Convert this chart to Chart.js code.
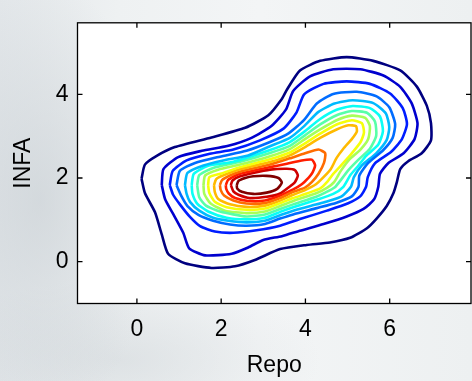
<!DOCTYPE html>
<html>
<head>
<meta charset="utf-8">
<script src="https://cdn.jsdelivr.net/npm/chart.js@4.4.1/dist/chart.umd.min.js"></script>
<style>
  html, body { margin: 0; padding: 0; }
  body {
    width: 472px;
    height: 381px;
    overflow: hidden;
    background:
      radial-gradient(ellipse 120px 220px at 40px 200px, rgba(196, 203, 208, 0.55), rgba(196, 203, 208, 0) 100%),
      radial-gradient(ellipse 200px 80px at 120px 360px, rgba(205, 211, 215, 0.5), rgba(205, 211, 215, 0) 100%),
      linear-gradient(90deg, #e3e7ea 0%, #eef1f2 25%, #f3f5f6 55%, #edf0f1 100%);
  }
  canvas { display: block; }
</style>
</head>
<body>
<canvas id="contourChart" width="472" height="381"></canvas>
<script>
//Ejes.
var xTicks = [0, 2, 4, 6];
var yTicks = [0, 2, 4];
var xRange = [-1.41, 7.93];
var yRange = [-1, 5.71];

//Curvas de nivel, de la exterior a la interior (x = Repo, y = INFA).
var level1 = [[0.11,1.98],[0.19,2.32],[0.47,2.53],[0.90,2.74],[1.77,2.97],[2.57,3.20],[3.12,3.50],[3.44,3.89],[3.56,4.11],[3.87,4.57],[4.35,4.80],[4.98,4.89],[5.61,4.80],[6.25,4.57],[6.64,4.19],[6.88,3.73],[6.98,3.31],[6.98,2.90],[6.76,2.59],[6.44,2.40],[6.25,2.21],[6.17,1.90],[6.09,1.64],[5.93,1.33],[5.69,1.03],[5.46,0.80],[5.06,0.57],[4.58,0.46],[4.03,0.40],[3.40,0.30],[2.80,0.04],[2.33,-0.11],[1.77,-0.15],[1.14,-0.04],[0.74,0.19],[0.59,0.65],[0.43,1.18],[0.19,1.64]];
var level2 = [[0.59,1.83],[0.63,2.21],[0.98,2.50],[1.54,2.65],[2.17,2.77],[2.72,2.96],[3.20,3.25],[3.54,3.64],[3.71,4.08],[4.11,4.43],[4.66,4.60],[5.30,4.60],[5.85,4.45],[6.25,4.18],[6.52,3.79],[6.66,3.31],[6.59,2.93],[6.33,2.59],[5.97,2.36],[5.77,2.10],[5.73,1.79],[5.63,1.49],[5.38,1.26],[4.98,1.08],[4.43,0.90],[3.87,0.74],[3.44,0.61],[3.00,0.52],[2.64,0.34],[2.25,0.19],[1.62,0.15],[1.24,0.32],[1.10,0.69],[0.86,1.14],[0.67,1.49]];
var level3 = [[0.78,1.83],[0.85,2.17],[1.18,2.42],[1.73,2.58],[2.29,2.68],[2.92,2.90],[3.48,3.18],[3.79,3.57],[3.97,4.00],[4.43,4.25],[4.98,4.31],[5.53,4.25],[6.01,4.02],[6.31,3.67],[6.41,3.29],[6.29,2.93],[6.03,2.62],[5.65,2.35],[5.48,2.02],[5.44,1.79],[5.30,1.56],[5.00,1.39],[4.51,1.22],[3.91,1.03],[3.40,0.86],[2.84,0.75],[2.29,0.69],[1.85,0.72],[1.50,0.85],[1.26,1.07],[1.02,1.37],[0.86,1.60]];
var level4 = [[0.94,1.83],[1.02,2.17],[1.38,2.36],[1.97,2.51],[2.60,2.65],[3.16,2.86],[3.59,3.06],[3.97,3.39],[4.27,3.78],[4.66,4.01],[5.22,4.06],[5.69,3.95],[5.99,3.69],[6.13,3.29],[6.07,2.96],[5.85,2.67],[5.49,2.36],[5.28,2.06],[5.26,1.79],[5.10,1.56],[4.74,1.41],[4.27,1.28],[3.71,1.13],[3.40,1.03],[3.04,0.90],[2.60,0.86],[2.21,0.89],[1.81,0.98],[1.46,1.12],[1.20,1.33],[1.06,1.56]];
var level5 = [[1.14,1.83],[1.20,2.12],[1.58,2.30],[2.05,2.42],[2.64,2.54],[3.16,2.76],[3.63,2.96],[3.97,3.24],[4.31,3.58],[4.69,3.78],[5.12,3.86],[5.61,3.79],[5.91,3.54],[5.99,3.22],[5.93,2.91],[5.68,2.59],[5.34,2.30],[5.15,2.02],[5.08,1.79],[4.86,1.56],[4.49,1.43],[4.27,1.37],[3.71,1.22],[3.40,1.11],[3.04,0.98],[2.60,0.94],[2.17,0.98],[1.81,1.05],[1.48,1.22],[1.26,1.43],[1.18,1.62]];
var level6 = [[1.30,1.83],[1.35,2.10],[1.69,2.29],[2.29,2.39],[3.16,2.67],[3.63,2.86],[3.99,3.12],[4.35,3.41],[4.74,3.63],[5.12,3.72],[5.53,3.67],[5.77,3.47],[5.84,3.12],[5.73,2.80],[5.44,2.53],[5.26,2.30],[5.06,2.06],[4.90,1.79],[4.66,1.62],[4.27,1.48],[3.71,1.30],[3.40,1.19],[3.04,1.05],[2.60,1.01],[2.13,1.05],[1.69,1.20],[1.43,1.39],[1.32,1.62]];
var level7 = [[1.43,1.83],[1.48,2.07],[1.81,2.24],[2.45,2.39],[3.16,2.60],[3.63,2.77],[3.99,3.02],[4.35,3.28],[4.74,3.50],[5.10,3.60],[5.46,3.56],[5.65,3.35],[5.68,3.01],[5.53,2.70],[5.26,2.44],[5.02,2.19],[4.86,1.98],[4.70,1.78],[4.47,1.65],[4.27,1.56],[3.71,1.37],[3.40,1.26],[3.04,1.13],[2.60,1.08],[1.97,1.20],[1.64,1.34],[1.48,1.54]];
var level8 = [[1.58,1.83],[1.62,2.06],[1.93,2.20],[2.45,2.32],[3.16,2.52],[3.63,2.69],[3.99,2.93],[4.35,3.16],[4.74,3.38],[5.10,3.49],[5.42,3.44],[5.53,3.24],[5.49,2.93],[5.30,2.67],[5.04,2.44],[4.84,2.17],[4.68,1.90],[4.52,1.77],[4.27,1.64],[3.71,1.45],[3.40,1.33],[3.04,1.20],[2.60,1.16],[2.09,1.22],[1.75,1.39],[1.60,1.62]];
var level9 = [[1.69,1.83],[1.72,2.02],[2.01,2.11],[2.45,2.26],[3.16,2.45],[3.63,2.61],[3.99,2.83],[4.35,3.06],[4.74,3.28],[5.10,3.38],[5.34,3.31],[5.39,3.09],[5.31,2.86],[5.10,2.59],[4.90,2.36],[4.66,2.10],[4.51,1.90],[4.35,1.75],[4.03,1.63],[3.71,1.52],[3.40,1.40],[3.04,1.27],[2.60,1.24],[2.13,1.30],[1.85,1.43],[1.72,1.64]];
var level10 = [[1.83,1.83],[1.88,1.97],[1.97,2.03],[2.45,2.21],[3.16,2.38],[3.63,2.54],[3.99,2.74],[4.35,2.96],[4.74,3.16],[5.02,3.26],[5.20,3.24],[5.22,3.11],[5.10,2.93],[4.90,2.70],[4.74,2.48],[4.60,2.21],[4.43,2.02],[4.25,1.85],[3.99,1.71],[3.71,1.60],[3.40,1.46],[3.04,1.34],[2.60,1.31],[2.21,1.37],[1.93,1.50],[1.85,1.66]];
var level11 = [[1.97,1.83],[2.02,1.95],[2.21,2.06],[2.45,2.15],[3.16,2.32],[3.63,2.47],[3.99,2.59],[4.31,2.68],[4.47,2.59],[4.44,2.36],[4.31,2.10],[4.15,1.90],[3.99,1.77],[3.71,1.67],[3.40,1.52],[3.04,1.40],[2.60,1.39],[2.29,1.46],[2.07,1.58],[1.99,1.71]];
var level12 = [[2.11,1.83],[2.16,1.95],[2.29,2.03],[2.45,2.10],[3.16,2.26],[3.56,2.34],[3.91,2.42],[4.15,2.44],[4.23,2.30],[4.15,2.10],[3.97,1.90],[3.82,1.79],[3.71,1.73],[3.40,1.58],[3.04,1.46],[2.64,1.45],[2.33,1.52],[2.18,1.63],[2.12,1.74]];
var level13 = [[2.23,1.83],[2.27,1.94],[2.45,2.04],[2.76,2.12],[3.16,2.20],[3.56,2.22],[3.75,2.19],[3.82,2.06],[3.75,1.90],[3.62,1.79],[3.40,1.63],[3.08,1.55],[2.68,1.52],[2.41,1.60],[2.29,1.68]];
var level14 = [[2.37,1.83],[2.41,1.93],[2.57,2.00],[2.76,2.04],[3.08,2.05],[3.36,2.00],[3.44,1.89],[3.33,1.74],[3.08,1.65],[2.76,1.62],[2.49,1.67],[2.38,1.75]];

var levels = [level1, level2, level3, level4, level5, level6, level7,
              level8, level9, level10, level11, level12, level13, level14];

//Mapa de color tipo "jet".
function jet(t) {
    function c(v) { return Math.round(255 * Math.max(0, Math.min(1, v))); }
    return 'rgb(' + c(1.5 - Math.abs(4 * t - 3)) + ',' +
                    c(1.5 - Math.abs(4 * t - 2)) + ',' +
                    c(1.5 - Math.abs(4 * t - 1)) + ')';
}

//Un dataset por curva, cerrando cada una con su primer punto.
var datasets = levels.map(function(points, i) {
    var data = points.map(function(p) { return { x: p[0], y: p[1] }; });
    data.push(data[0]);
    return {
        data: data,
        showLine: true,
        fill: false,
        borderColor: jet(i / (levels.length - 1)),
        borderWidth: 2.6,
        pointRadius: 0,
        tension: 0.2
    };
});

//Fondo blanco, marco y marcas hacia dentro en los cuatro lados.
var marco = {
    id: 'marco',
    beforeDraw: function(chart) {
        var ctx = chart.ctx, a = chart.chartArea;
        ctx.save();
        ctx.fillStyle = '#ffffff';
        ctx.fillRect(a.left, a.top, a.right - a.left, a.bottom - a.top);
        ctx.restore();
    },
    afterDraw: function(chart) {
        var ctx = chart.ctx, a = chart.chartArea;
        var sx = chart.scales.x, sy = chart.scales.y;
        var len = 5;
        ctx.save();
        ctx.strokeStyle = '#000000';
        ctx.lineWidth = 1.3;
        ctx.strokeRect(a.left, a.top, a.right - a.left, a.bottom - a.top);
        ctx.beginPath();
        sx.ticks.forEach(function(t) {
            var px = sx.getPixelForValue(t.value);
            ctx.moveTo(px, a.bottom); ctx.lineTo(px, a.bottom - len);
            ctx.moveTo(px, a.top); ctx.lineTo(px, a.top + len);
        });
        sy.ticks.forEach(function(t) {
            var py = sy.getPixelForValue(t.value);
            ctx.moveTo(a.left, py); ctx.lineTo(a.left + len, py);
            ctx.moveTo(a.right, py); ctx.lineTo(a.right - len, py);
        });
        ctx.stroke();
        ctx.restore();
    }
};

Chart.defaults.font.family = '"Liberation Sans", Arial, sans-serif';
Chart.defaults.color = '#000000';

var fuente = { size: 23, lineHeight: 1.2 };

//Configuración del gráfico.
var options = {
    responsive: false,
    animation: false,
    devicePixelRatio: 1,
    layout: { padding: { top: 10, right: 1, bottom: 0, left: 0 } },
    plugins: { legend: { display: false }, tooltip: { enabled: false } },
    scales: {
        x: {
            type: 'linear',
            min: xRange[0],
            max: xRange[1],
            grid: { display: false, drawTicks: false },
            border: { display: false },
            afterBuildTicks: function(scale) {
                scale.ticks = xTicks.map(function(v) { return { value: v }; });
            },
            afterFit: function(scale) { scale.height = 77.5; },
            ticks: { font: fuente, padding: 12.7, maxRotation: 0 },
            title: { display: true, text: 'Repo', font: fuente, padding: { top: 0, bottom: 2 } }
        },
        y: {
            type: 'linear',
            min: yRange[0],
            max: yRange[1],
            grid: { display: false, drawTicks: false },
            border: { display: false },
            afterBuildTicks: function(scale) {
                scale.ticks = yTicks.map(function(v) { return { value: v }; });
            },
            afterFit: function(scale) { scale.width = 77.5; },
            ticks: { font: fuente, padding: 9 },
            title: { display: true, text: 'INFA', font: fuente, padding: { top: 10, bottom: 0 } }
        }
    }
};

//Crear el gráfico de contorno.
var ctx = document.getElementById('contourChart').getContext('2d');
var contourChart = new Chart(ctx, {
    type: 'scatter',
    data: { datasets: datasets },
    options: options,
    plugins: [marco]
});
</script>
</body>
</html>
